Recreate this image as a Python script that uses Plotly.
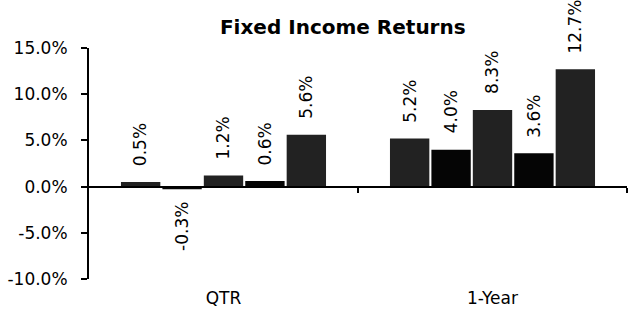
import plotly.graph_objects as go

categories = ["QTR", "1-Year"]
series_names = ["S1", "S2", "S3", "S4", "S5"]
s1 = [0.5, 5.2]
s2 = [-0.3, 4.0]
s3 = [1.2, 8.3]
s4 = [0.6, 3.6]
s5 = [5.6, 12.7]
series = [s1, s2, s3, s4, s5]
colors = ["#222222", "#050505", "#222222", "#050505", "#222222"]
y_ticks = [-10, -5, 0, 5, 10, 15]

FONT = "DejaVu Sans"
bargap = 0.23
n = len(series)
xs = list(range(len(categories)))

fig = go.Figure()
for name, vals, c in zip(series_names, series, colors):
    fig.add_trace(go.Bar(x=xs, y=vals, name=name, marker=dict(color=c, line=dict(width=0)),
                         showlegend=False, hoverinfo="skip"))
# helper trace so the zero-line axis (x2) is drawn
fig.add_trace(go.Scatter(x=[None], y=[None], xaxis="x2", yaxis="y", showlegend=False,
                         hoverinfo="skip"))

annotations = []
slot = (1 - bargap) / n
for i, vals in enumerate(series):
    off = -(1 - bargap) / 2 + slot * (i + 0.5)
    for xi, v in zip(xs, vals):
        annotations.append(dict(
            x=xi + off, y=v, xref="x", yref="y", text=f"{v:.1f}%", showarrow=False,
            textangle=-90, yanchor="bottom" if v >= 0 else "top",
            yshift=14 if v >= 0 else -11,
            font=dict(family=FONT, size=17, color="#000")))

fig.update_layout(
    width=629, height=314,
    margin=dict(l=89, r=2, t=48, b=35),
    paper_bgcolor="white", plot_bgcolor="white",
    barmode="group", bargap=bargap, bargroupgap=0.05,
    title=dict(text="<b>Fixed Income Returns</b>", x=0.545, xanchor="center", y=0.915, yanchor="middle",
               font=dict(family=FONT, size=20, color="#000")),
    annotations=annotations,
    xaxis=dict(range=[-0.5, 1.5], tickvals=xs, ticktext=categories, showline=False,
               showgrid=False, zeroline=False, ticks="", automargin=False,
               ticklabelstandoff=7,
               tickfont=dict(family=FONT, size=17, color="#000")),
    xaxis2=dict(range=[-0.5, 1.5], overlaying="x", anchor="free", position=0.4,
                side="bottom", showline=True, linecolor="#000", linewidth=2,
                tickvals=[0.5, 1.5], ticks="outside", ticklen=5, tickwidth=2, tickcolor="#000",
                showticklabels=False, showgrid=False, zeroline=False, automargin=False),
    yaxis=dict(range=[-10, 15], tickvals=y_ticks, ticktext=[f"{t:.1f}%" for t in y_ticks],
               showline=True, linecolor="#000", linewidth=2, ticks="outside", ticklen=6,
               tickwidth=2, tickcolor="#000", showgrid=False, zeroline=True,
               zerolinecolor="#000", zerolinewidth=2, automargin=False,
               ticklabelstandoff=10,
               tickfont=dict(family=FONT, size=17, color="#000")),
)

fig.write_html("out.html", config={"displayModeBar": False},
               post_script="document.body.style.margin='0';document.body.style.overflow='hidden';")
